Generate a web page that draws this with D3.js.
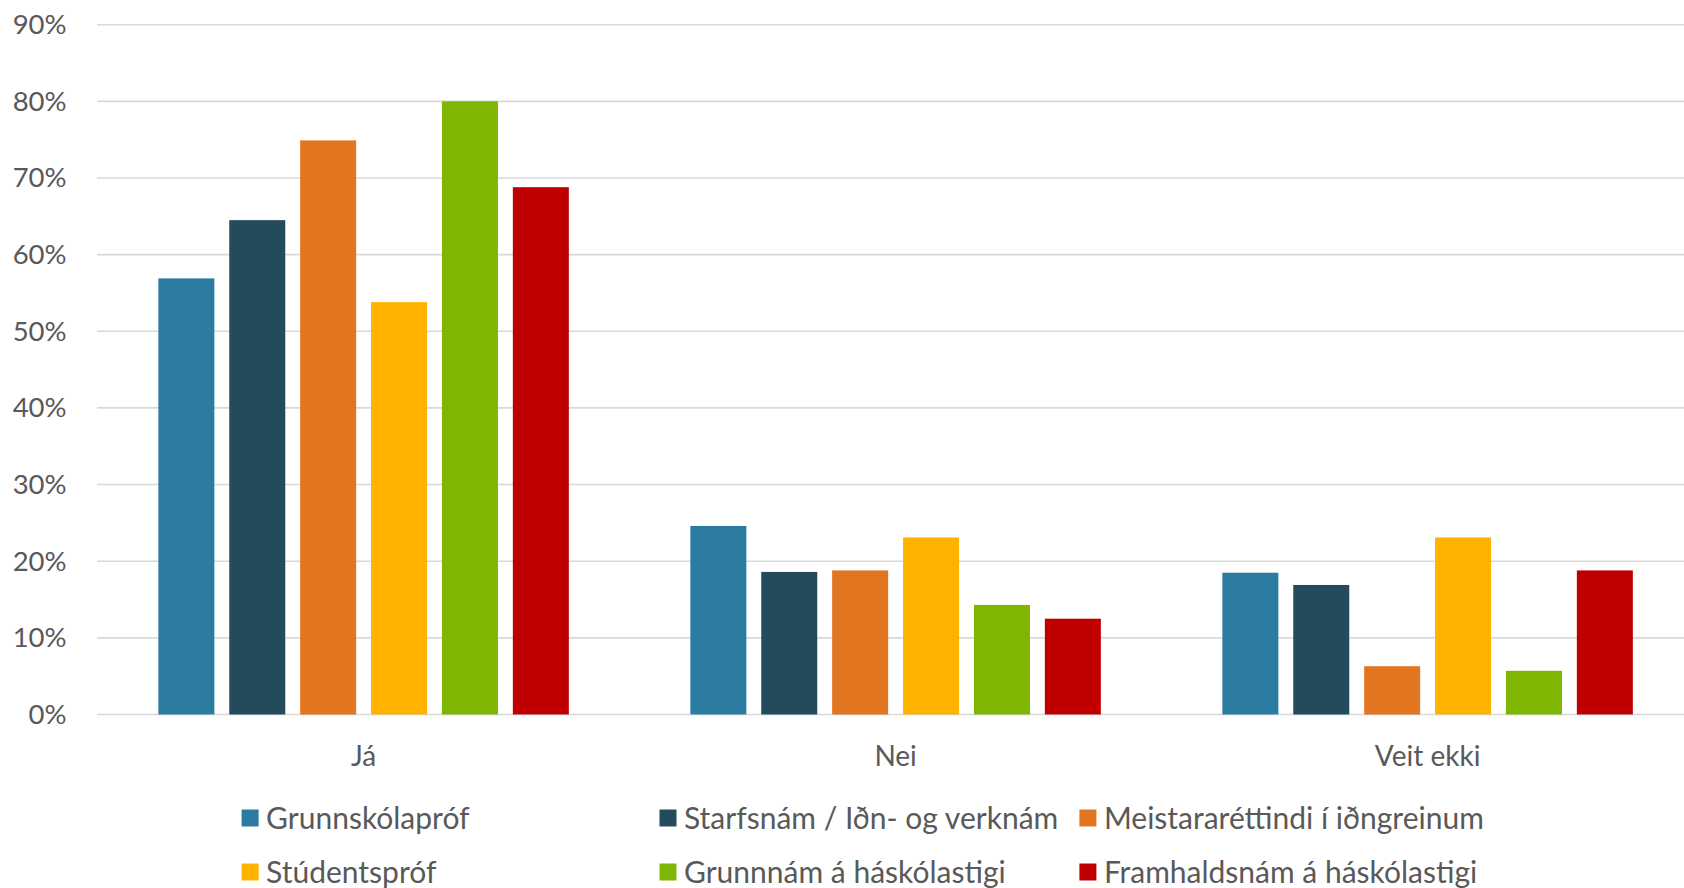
<!DOCTYPE html>
<html><head><meta charset="utf-8">
<script src="https://cdn.jsdelivr.net/npm/d3@7"></script>
<style>html,body{margin:0;padding:0;background:#fff;overflow:hidden}</style>
</head><body>
<svg id="c" width="1684" height="888"></svg>
<script>
const categories = ["Já", "Nei", "Veit ekki"];
const seriesNames = ["Grunnskólapróf", "Starfsnám / Iðn- og verknám", "Meistararéttindi í iðngreinum", "Stúdentspróf", "Grunnnám á háskólastigi", "Framhaldsnám á háskólastigi"];
const seriesColors = ["#2C7BA0", "#244B5B", "#E2751F", "#FFB300", "#7FB604", "#C00000"];
const grunnskolaprof = [0.569, 0.246, 0.185];
const starfsnam = [0.645, 0.186, 0.169];
const meistararettindi = [0.749, 0.188, 0.063];
const studentsprof = [0.538, 0.231, 0.231];
const grunnnam = [0.800, 0.143, 0.057];
const framhaldsnam = [0.688, 0.125, 0.188];
const yTicks = [0, 0.1, 0.2, 0.3, 0.4, 0.5, 0.6, 0.7, 0.8, 0.9];

const seriesValues = [grunnskolaprof, starfsnam, meistararettindi, studentsprof, grunnnam, framhaldsnam];
const font = "Lato, 'Open Sans', sans-serif";
const textColor = "#595959";
const svg = d3.select("#c");

const y = d3.scaleLinear().domain([0, 0.9]).range([714.5, 24.7]);
const x0 = d3.scaleBand().domain(categories).range([97.6, 1693.6]).padding(0);
const x1 = d3.scaleBand().domain(seriesNames).range([0, x0.bandwidth()]).paddingInner(0.21).paddingOuter(0.857);

// gridlines
svg.append("g").selectAll("line").data(yTicks).join("line")
  .attr("x1", 97).attr("x2", 1684)
  .attr("y1", d => y(d)).attr("y2", d => y(d))
  .attr("stroke", "#D9D9D9").attr("stroke-width", 1.6);

// y labels
const yAxis = d3.axisLeft(y).tickValues(yTicks).tickFormat(d3.format(".0%")).tickSize(0).tickPadding(0);
const ya = svg.append("g").attr("transform", "translate(66.6,0)").call(yAxis);
ya.select(".domain").remove();
ya.selectAll("text").attr("font-family", font).attr("font-size", 27.5).attr("fill", textColor);

// bars
const groups = svg.append("g").selectAll("g").data(categories).join("g")
  .attr("transform", d => `translate(${x0(d)},0)`);
groups.selectAll("rect").data((c, ci) => seriesNames.map((s, si) => ({s, v: seriesValues[si][ci], color: seriesColors[si]})))
  .join("rect")
  .attr("x", d => x1(d.s)).attr("width", x1.bandwidth())
  .attr("y", d => y(d.v)).attr("height", d => y(0) - y(d.v))
  .attr("fill", d => d.color);

// category labels
const xAxis = d3.axisBottom(x0).tickSize(0).tickPadding(0);
const xa = svg.append("g").attr("transform", "translate(0,756)").call(xAxis);
xa.select(".domain").remove();
xa.selectAll("text").attr("font-family", font).attr("font-size", 28).attr("fill", textColor).attr("dy", "0.35em");

// legend
const legX = [241.6, 659.5, 1079.4];
const legY = [818, 872];
const leg = svg.append("g").selectAll("g").data(seriesNames).join("g")
  .attr("transform", (d, i) => `translate(${legX[i % 3]},${legY[Math.floor(i / 3)]})`);
leg.append("rect").attr("x", 0).attr("y", -8.5).attr("width", 17).attr("height", 17)
  .attr("fill", (d, i) => seriesColors[i]);
leg.append("text").attr("x", 24.5).attr("y", 0).attr("dy", "0.35em")
  .attr("font-family", font).attr("font-size", 30).attr("fill", textColor).text(d => d);
</script>
</body></html>
